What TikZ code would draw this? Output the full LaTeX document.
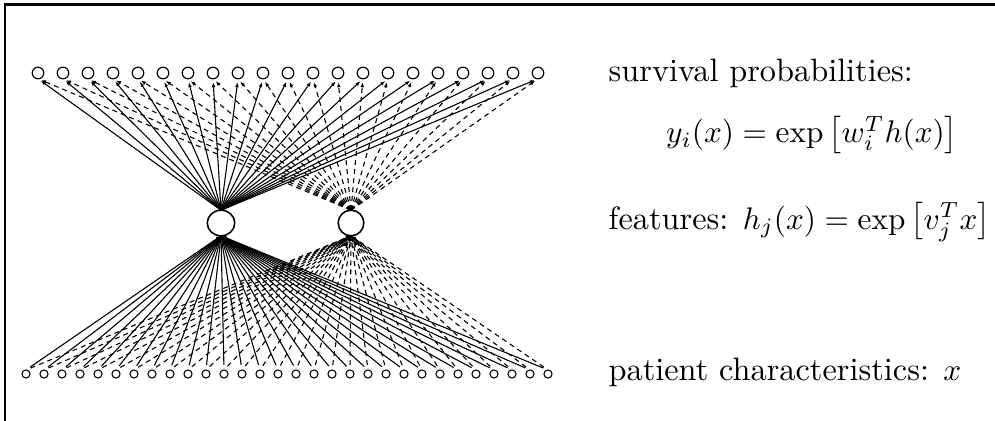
\documentclass[tikz,border=0pt]{standalone}
\usetikzlibrary{arrows.meta,shapes.geometric}
\begin{document}
\begin{tikzpicture}[x=0.32pt,y=-0.32pt,
  outunit/.style={circle,draw,line width=0.38pt,inner sep=0pt,outer sep=0pt,minimum size=3.7pt},
  inunit/.style={circle,draw,line width=0.35pt,inner sep=0pt,outer sep=0pt,minimum size=2.6pt},
  hidunit/.style={ellipse,draw,line width=0.5pt,inner sep=0pt,outer sep=0pt,minimum width=8.8pt,minimum height=8.2pt},
  conn/.style={line width=0.35pt,-{Latex[length=1.6pt,width=1.2pt]}},
  dconn/.style={conn,dash pattern=on 1.6pt off 1.3pt},
  lbl/.style={anchor=base west,inner sep=0pt,font=\fontsize{10.35}{12}\selectfont}]
\useasboundingbox (0,0) rectangle (995,421);
% frame: top and left edges only
\coordinate (fl) at (5,421);
\coordinate (fc) at (5,4.5);
\coordinate (fr) at (995,4.5);
\draw[line width=0.8pt] (fl) -- (fc) -- (fr);
% hidden units
\node[hidunit] (h1) at (221,223) {};
\node[hidunit,minimum width=8.2pt] (h2) at (351,223) {};
% output units
\foreach \i in {1,...,21} {
  \node[outunit] (t\i) at ({38+25*(\i-1)},73) {};
}
% input units
\foreach \j in {1,...,30} {
  \node[inunit] (b\j) at ({26+18*(\j-1)},374) {};
}
% hidden -> outputs
\foreach \i in {1,...,21} {
  \draw[conn,shorten >=1.1pt] (h1.north) -- (t\i.south);
  \draw[dconn,shorten >=1.1pt] (h2.north) -- (t\i.south);
}
% inputs -> hidden
\foreach \j in {1,...,30} {
  \draw[conn,shorten <=1.6pt] (b\j.north) -- (h1.south);
  \draw[dconn,shorten <=1.6pt] (b\j.north) -- (h2.south);
}
% labels
\node[lbl] (l1) at (608,81) {survival probabilities:};
\node[font=\fontsize{10}{12}\selectfont,inner sep=0pt] (l2) at (812,135) {$y_i(x) = \exp\left[w_i^T h(x)\right]$};
\node[lbl] (l3) at (608,229) {features: $h_j(x) = \exp\left[v_j^T x\right]$};
\node[lbl] (l4) at (608,380) {patient characteristics: $x$};
\end{tikzpicture}
\end{document}
